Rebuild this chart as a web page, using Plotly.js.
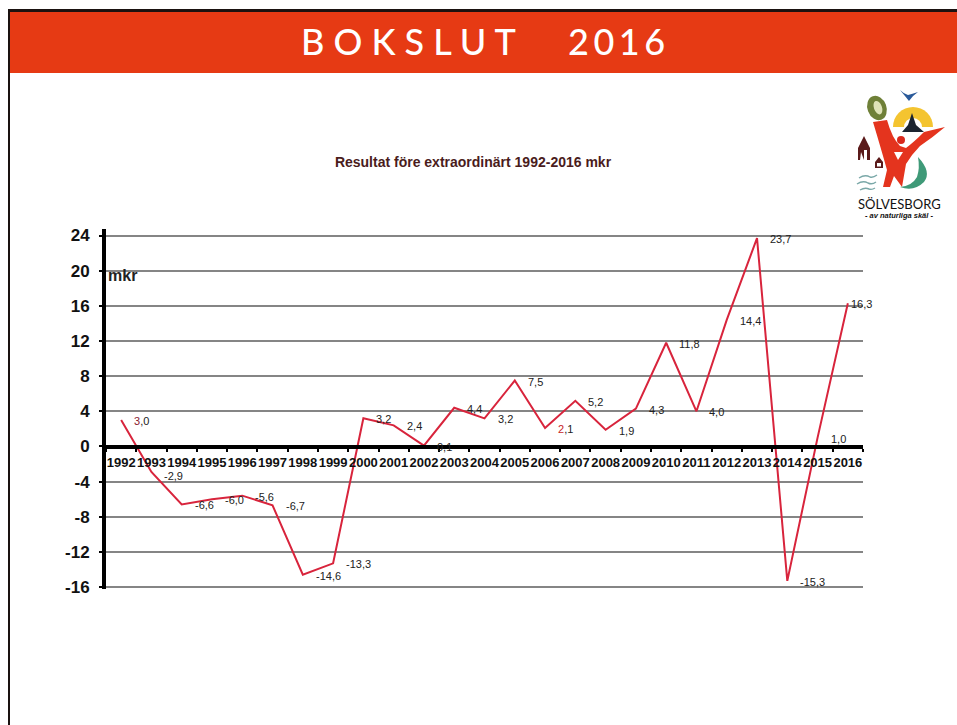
<!DOCTYPE html>
<html>
<head>
<meta charset="utf-8">
<script src="https://cdn.plot.ly/plotly-3.0.1.min.js"></script>
<style>html,body{margin:0;padding:0;background:#fff}#chart{width:957px;height:725px}</style>
</head>
<body>
<div id="chart"></div>
<script>
var years = ['1992','1993','1994','1995','1996','1997','1998','1999','2000','2001','2002','2003','2004','2005','2006','2007','2008','2009','2010','2011','2012','2013','2014','2015','2016'];
var results = [3.0,-2.9,-6.6,-6.0,-5.6,-6.7,-14.6,-13.3,3.2,2.4,0.1,4.4,3.2,7.5,2.1,5.2,1.9,4.3,11.8,4.0,14.4,23.7,-15.3,1.0,16.3];
var labelTexts = ['3,0','-2,9','-6,6','-6,0','-5,6','-6,7','-14,6','-13,3','3,2','2,4','0,1','4,4','3,2','7,5','2,1','5,2','1,9','4,3','11,8','4,0','14,4','23,7','-15,3','1,0','16,3'];
var yTicks = [-16,-12,-8,-4,0,4,8,12,16,20,24];

var W = 957, H = 725;
function px(x){return x/W;}
function py(y){return 1-y/H;}

var logo = "<svg xmlns='http://www.w3.org/2000/svg' width='117' height='118' viewBox='0 0 117 118'>"
 + "<path d='M60 10 Q64 14 68 15 Q72 14 78 12 Q72 16 69 21 Q65 16 60 10Z' fill='#2a5a9a'/>"
 + "<g transform='rotate(-20 37 28)'><ellipse cx='37' cy='28' rx='9.5' ry='12.5' fill='#6f8038'/><ellipse cx='38' cy='28' rx='4' ry='7' fill='#dfe3b8'/></g>"
 + "<path d='M53 47 A20 20 0 0 1 93 47Z' fill='#f4c430'/><path d='M64 47 A9 9 0 0 1 82 47Z' fill='#fff'/>"
 + "<path d='M72 33 L76 45 L84 52 L62 52 L68 45Z' fill='#1c2430'/>"
 + "<path d='M33 42 L47 40 Q52 58 60 66 L66 68 Q74 62 84 52 L105 47 Q92 58 80 66 Q72 74 66 84 L62 107 L54 96 L50 107 L43 107 L47 90 Q42 72 33 42Z' fill='#e4341e'/>"
 + "<circle cx='61' cy='60' r='4' fill='#d9281c'/>"
 + "<path d='M54 72 L63 72 L58 80Z' fill='#fff'/>"
 + "<path d='M18 68 L24 56 L30 68 L30 80 L27 80 L27 70 L24 70 L24 80 L21 72 L20 80 L18 80Z' fill='#5a1a1a'/>"
 + "<path d='M35 82 L39 77 L43 82 L43 88 L35 88Z' fill='#5a1a1a'/><rect x='37' y='83' width='4' height='3.5' fill='#fff'/>"
 + "<path d='M19 98 Q25 94 30 97 Q33 98 37 95 M17 104 Q23 100 28 103 Q32 105 36 102 M20 110 Q25 107 29 109 Q32 110 35 108' stroke='#7aa8a8' stroke-width='1.4' fill='none'/>"
 + "<path d='M78 77 Q92 92 84 102 Q74 112 60 107 Q72 106 77 97 Q80 88 78 77Z' fill='#3f9a78'/>"
 + "</svg>";

var annotations = years.map(function(y,i){
  var t = labelTexts[i];
  if (y==='1992') t = '<span style="color:#8a2030">3</span>,0';
  if (y==='2006') t = '<span style="color:#c81e28">2</span>,1';
  return {
    x:i, y:results[i], xref:'x', yref:'y', text:t, showarrow:false,
    xanchor:'left', yanchor:'middle', xshift:(y==='2016'?1:11), yshift:(y==='1993'?-4:-1),
    font:{family:'Liberation Sans',size:11,color:'#222'}
  };
});
annotations.push(
  {xref:'paper',yref:'paper',x:px(299),y:py(41),text:'B\u00a0O\u00a0K\u00a0S\u00a0L\u00a0U\u00a0T',
   showarrow:false,xanchor:'left',yanchor:'middle',font:{family:'Lato',size:36,color:'#fff',weight:500}},
  {xref:'paper',yref:'paper',x:px(566),y:py(41),text:'2\u20090\u20091\u20096',
   showarrow:false,xanchor:'left',yanchor:'middle',font:{family:'Lato',size:36,color:'#fff',weight:500}},
  {xref:'paper',yref:'paper',x:px(106),y:py(275),text:'<b>mkr</b>',showarrow:false,xanchor:'left',yanchor:'middle',
   font:{family:'Liberation Sans',size:16,color:'#222'}},
  {xref:'paper',yref:'paper',x:px(899),y:py(204),text:'SÖLVESBORG',showarrow:false,xanchor:'center',yanchor:'middle',
   font:{family:'Lato',size:13,color:'#111'}},
  {xref:'paper',yref:'paper',x:px(899),y:py(216),text:'<b><i>- av naturliga skäl -</i></b>',showarrow:false,xanchor:'center',yanchor:'middle',
   font:{family:'Liberation Sans',size:7.5,color:'#111'}}
);

var trace = {
  x:years, y:results, type:'scatter', mode:'lines',
  line:{color:'#d8243c',width:2,shape:'linear'},
  hoverinfo:'x+y', showlegend:false
};

var layout = {
  width:W, height:H, autosize:false,
  margin:{l:0,r:0,t:0,b:0,pad:0},
  paper_bgcolor:'#fff', plot_bgcolor:'rgba(0,0,0,0)',
  showlegend:false,
  title:{text:'<b>Resultat före extraordinärt 1992-2016 mkr</b>',xref:'paper',yref:'paper',x:px(473),y:py(162),xanchor:'center',yanchor:'middle',
    font:{family:'Liberation Sans',size:14,color:'#4a1c1c'}},
  xaxis:{
    type:'category', categoryorder:'array', categoryarray:years, range:[-0.5,24.5], autorange:false,
    domain:[px(106),px(863)], anchor:'free', position:py(446.5),
    showgrid:false, zeroline:false, showline:true, linecolor:'#000', linewidth:4,
    ticks:'outside', tickson:'boundaries', ticklen:3, tickwidth:2, tickcolor:'#000',
    tickangle:0, tickfont:{family:'Liberation Sans',size:13,color:'#111',weight:700},
    ticklabelstandoff:3, dtick:1, fixedrange:true
  },
  yaxis:{
    range:[-16.2,24.8], autorange:false, domain:[py(588.8),py(228.5)],
    tickmode:'array', tickvals:yTicks, ticktext:yTicks.map(String),
    showgrid:true, gridcolor:'#858585', gridwidth:2, zeroline:false,
    showline:true, linecolor:'#000', linewidth:4,
    ticks:'outside', ticklen:3, tickwidth:2, tickcolor:'#000',
    tickfont:{family:'Liberation Sans',size:17,color:'#111',weight:700},
    ticklabelstandoff:6, fixedrange:true
  },
  shapes:[
    {type:'rect',xref:'paper',yref:'paper',x0:px(10),x1:1,y0:py(73),y1:py(11),fillcolor:'#e63a14',line:{width:0},layer:'below'},
    {type:'rect',xref:'paper',yref:'paper',x0:px(8),x1:1,y0:py(12),y1:py(9),fillcolor:'#1a1210',line:{width:0},layer:'below'},
    {type:'rect',xref:'paper',yref:'paper',x0:px(8),x1:px(10),y0:0,y1:py(9),fillcolor:'#1a1210',line:{width:0},layer:'below'}
  ],
  images:[{source:'data:image/svg+xml;charset=utf-8,'+encodeURIComponent(logo),xref:'paper',yref:'paper',
    x:px(840),y:py(80),sizex:117/W,sizey:118/H,xanchor:'left',yanchor:'top',sizing:'stretch',layer:'above'}],
  annotations:annotations
};

Plotly.newPlot('chart',[trace],layout,{displayModeBar:false,staticPlot:true});
</script>
</body>
</html>
